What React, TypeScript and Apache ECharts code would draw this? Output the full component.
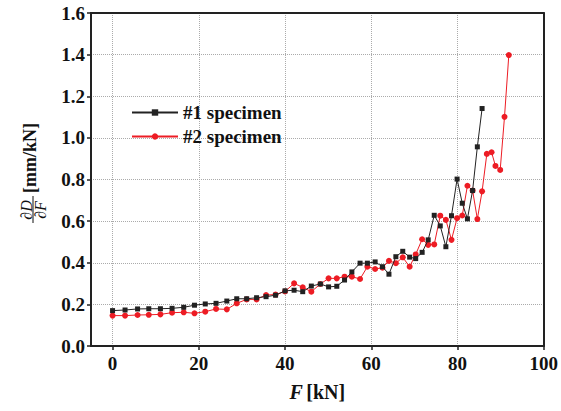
import React, { useEffect, useRef } from "react";
import * as echarts from "echarts";

const forceS1: number[] = [0, 2.9, 5.8, 8.4, 11.1, 13.8, 16.5, 19.0, 21.5, 24.0, 26.5, 28.8, 31.1, 33.4, 35.6, 37.8, 40.0, 42.1, 44.1, 46.1, 48.2, 50.1, 52.0, 53.8, 55.5, 57.4, 59.1, 60.9, 62.6, 64.1, 65.7, 67.3, 68.9, 70.3, 71.8, 73.2, 74.6, 76.0, 77.3, 78.6, 79.9, 81.1, 82.3, 83.5, 84.6, 85.7];
const compS1: number[] = [0.170, 0.173, 0.178, 0.179, 0.179, 0.181, 0.186, 0.196, 0.202, 0.205, 0.216, 0.227, 0.227, 0.232, 0.237, 0.244, 0.265, 0.268, 0.261, 0.288, 0.298, 0.284, 0.287, 0.317, 0.356, 0.398, 0.398, 0.404, 0.381, 0.345, 0.429, 0.455, 0.427, 0.420, 0.450, 0.510, 0.628, 0.577, 0.477, 0.626, 0.802, 0.686, 0.611, 0.747, 0.957, 1.141];

const forceS2: number[] = [0, 2.9, 5.8, 8.4, 11.1, 13.8, 16.5, 19.0, 21.5, 24.0, 26.5, 28.8, 31.1, 33.4, 35.6, 37.8, 40.0, 42.1, 44.1, 46.1, 48.2, 50.1, 52.0, 53.8, 55.5, 57.4, 59.1, 60.9, 62.6, 64.1, 65.7, 67.3, 68.9, 70.3, 71.8, 73.2, 74.6, 76.0, 77.3, 78.6, 79.9, 81.1, 82.3, 83.5, 84.6, 85.7, 86.8, 87.9, 88.8, 89.9, 90.9, 91.9];
const compS2: number[] = [0.146, 0.146, 0.149, 0.150, 0.152, 0.160, 0.162, 0.157, 0.165, 0.178, 0.176, 0.205, 0.224, 0.224, 0.245, 0.247, 0.262, 0.301, 0.282, 0.261, 0.298, 0.325, 0.325, 0.333, 0.333, 0.322, 0.381, 0.370, 0.376, 0.409, 0.398, 0.426, 0.381, 0.440, 0.513, 0.486, 0.488, 0.626, 0.606, 0.510, 0.614, 0.627, 0.770, 0.747, 0.610, 0.743, 0.923, 0.931, 0.865, 0.846, 1.101, 1.398];

const seriesNames: string[] = ["#1 specimen", "#2 specimen"];
const FONT = "'Liberation Serif', 'Times New Roman', serif";

export default function App() {
  const ref = useRef<HTMLDivElement>(null);
  useEffect(() => {
    if (!ref.current) return;
    const chart = echarts.init(ref.current, undefined, { renderer: "svg" });
    const axisLine = { show: true, onZero: false, lineStyle: { color: "#222", width: 2 } };
    const frameAxis = {
      axisLine,
      axisTick: { show: false },
      axisLabel: { show: false },
      splitLine: { show: false },
    };
    chart.setOption({
      animation: false,
      backgroundColor: "#fff",
      grid: { left: 91, right: 15, top: 13, bottom: 65, show: false, containLabel: false },
      legend: {
        data: seriesNames,
        orient: "vertical",
        left: 126,
        top: 98,
        itemWidth: 46,
        itemHeight: 8,
        itemGap: 5,
        textStyle: { fontFamily: FONT, fontWeight: "bold", fontSize: 19, color: "#111", padding: [0, 0, 0, 0] },
      },
      xAxis: [
        {
          type: "value",
          min: -5,
          max: 100,
          splitNumber: 5,
          position: "bottom",
          axisLine,
          axisTick: { show: true, inside: false, length: 4, lineStyle: { color: "#222", width: 1.5 } },
          axisLabel: {
            showMinLabel: false,
            margin: 8,
            fontFamily: FONT,
            fontWeight: "bold",
            fontSize: 19,
            color: "#111",
            formatter: (v: number) => (v < 0 ? "" : String(v)),
          },
          splitLine: { show: true, lineStyle: { color: "#ababab", type: "dotted", width: 1 } },
          name: "{i|F} {b|[kN]}",
          nameLocation: "middle",
          nameGap: 36,
          nameTextStyle: {
            rich: {
              i: { fontFamily: FONT, fontStyle: "italic", fontWeight: "bold", fontSize: 20, color: "#111" },
              b: { fontFamily: FONT, fontWeight: "bold", fontSize: 20, color: "#111" },
            },
          },
        },
        { type: "value", min: -5, max: 100, position: "top", ...frameAxis },
      ],
      yAxis: [
        {
          type: "value",
          min: 0,
          max: 1.6,
          interval: 0.2,
          position: "left",
          axisLine,
          axisTick: { show: true, inside: false, length: 4, lineStyle: { color: "#222", width: 1.5 } },
          axisLabel: {
            margin: 6,
            fontFamily: FONT,
            fontWeight: "bold",
            fontSize: 19,
            color: "#111",
            formatter: (v: number) => v.toFixed(1),
          },
          splitLine: { show: true, lineStyle: { color: "#ababab", type: "dotted", width: 1 } },
        },
        { type: "value", min: 0, max: 1.6, interval: 0.2, position: "right", ...frameAxis },
      ],
      graphic: [
        {
          type: "group",
          x: 33,
          y: 224,
          rotation: Math.PI / 2,
          children: [
            { type: "text", x: 14, y: -7, style: { text: "∂D", font: `italic 16px ${FONT}`, fill: "#111", align: "center", verticalAlign: "middle" } },
            { type: "line", shape: { x1: 1, y1: 0, x2: 28, y2: 0 }, style: { stroke: "#111", lineWidth: 1 } },
            { type: "text", x: 14, y: 7, style: { text: "∂F", font: `italic 16px ${FONT}`, fill: "#111", align: "center", verticalAlign: "middle" } },
            { type: "text", x: 31, y: -3, style: { text: "[mm/kN]", font: `bold 18px ${FONT}`, fill: "#111", align: "left", verticalAlign: "middle" } },
          ],
        },
      ],
      series: [
        {
          name: seriesNames[0],
          type: "line",
          xAxisIndex: 0,
          yAxisIndex: 0,
          data: forceS1.map((f, i) => [f, compS1[i]]),
          symbol: "rect",
          symbolSize: 5,
          itemStyle: { color: "#222" },
          lineStyle: { color: "#222", width: 1 },
          z: 3,
        },
        {
          name: seriesNames[1],
          type: "line",
          xAxisIndex: 0,
          yAxisIndex: 0,
          data: forceS2.map((f, i) => [f, compS2[i]]),
          symbol: "circle",
          symbolSize: 6,
          itemStyle: { color: "#ed1c24" },
          lineStyle: { color: "#ed1c24", width: 1 },
          z: 2,
        },
      ],
    });
    return () => chart.dispose();
  }, []);
  return <div ref={ref} style={{ position: "fixed", left: 0, top: 0, width: 561, height: 411 }} />;
}
